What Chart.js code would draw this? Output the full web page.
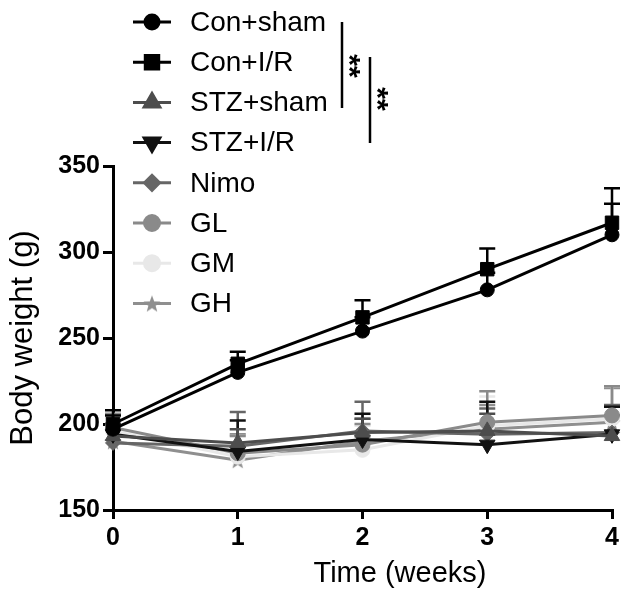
<!DOCTYPE html>
<html><head><meta charset="utf-8">
<script src="https://cdn.jsdelivr.net/npm/chart.js@4/dist/chart.umd.min.js"></script>
<style>html,body{margin:0;padding:0;background:#fff}#wrap{width:643px;height:591px}</style>
</head><body><div id="wrap"><canvas id="c" width="643" height="591"></canvas></div>
<script>
const weeks = [0, 1, 2, 3, 4];
const seriesNames = ['Con+sham', 'Con+I/R', 'STZ+sham', 'STZ+I/R', 'Nimo', 'GL', 'GM', 'GH'];
const conSham   = [197, 230, 254, 278, 310];
const conIR     = [200, 235, 262, 290, 317];
const stzSham   = [193, 189, 195, 196, 193];
const stzIR     = [194, 184, 191, 188, 194];
const nimo      = [189, 187, 196, 194, 195];
const gl        = [198, 183, 188, 201, 205];
const gm        = [196, 181, 185, 199, 203];
const gh        = [190, 179, 190, 197, 201];
const conShamErr = [8, 7, 8, 10, 18];
const conIRErr   = [8, 7, 10, 12, 20];
const stzShamErr = [7, 8, 8, 10, 12];
const stzIRErr   = [6, 18, 15, 25, 16];
const nimoErr    = [10, 20, 17, 15, 16];
const glErr      = [8, 10, 12, 18, 17];
const gmErr      = [8, 12, 14, 17, 19];
const ghErr      = [9, 15, 13, 14, 20];
const yTicks = [150, 200, 250, 300, 350];
const xTicks = [0, 1, 2, 3, 4];

const FONT = "'Liberation Sans', Arial, Helvetica, sans-serif";

function starImage(color, size) {
  const c = document.createElement('canvas');
  c.width = size; c.height = size;
  const g = c.getContext('2d');
  const cx = size / 2, cy = size / 2 + 1, R = size / 2, r = R * 0.42;
  g.beginPath();
  for (let i = 0; i < 10; i++) {
    const a = -Math.PI / 2 + i * Math.PI / 5;
    const rr = i % 2 === 0 ? R : r;
    g.lineTo(cx + rr * Math.cos(a), cy + rr * Math.sin(a));
  }
  g.closePath();
  g.fillStyle = color; g.fill();
  return c;
}

const styles = [
  {color: '#000000', pointStyle: 'circle', radius: 7, rotation: 0},
  {color: '#000000', pointStyle: 'rect', radius: 9.5, rotation: 0},
  {color: '#4d4d4d', pointStyle: 'triangle', radius: 9, rotation: 0},
  {color: '#111111', pointStyle: 'triangle', radius: 9, rotation: 180},
  {color: '#666666', pointStyle: 'rectRot', radius: 7.5, rotation: 0},
  {color: '#8a8a8a', pointStyle: 'circle', radius: 7.5, rotation: 0},
  {color: '#e8e8e8', pointStyle: 'circle', radius: 7.5, rotation: 0},
  {color: '#8f8f8f', pointStyle: starImage('#8f8f8f', 18), radius: 8, rotation: 0}
];
const values = [conSham, conIR, stzSham, stzIR, nimo, gl, gm, gh];
const errs = [conShamErr, conIRErr, stzShamErr, stzIRErr, nimoErr, glErr, gmErr, ghErr];

const datasets = seriesNames.map((name, i) => ({
  label: name,
  data: weeks.map((w, k) => ({x: w, y: values[i][k]})),
  borderColor: styles[i].color,
  backgroundColor: styles[i].color,
  pointBackgroundColor: styles[i].color,
  pointBorderColor: styles[i].color,
  pointStyle: styles[i].pointStyle,
  pointRadius: styles[i].radius,
  pointRotation: styles[i].rotation,
  pointBorderWidth: 1,
  borderWidth: 3,
  tension: 0,
  clip: false,
  errs: errs[i]
}));

const errorBars = {
  id: 'errorBars',
  beforeDatasetsDraw(chart) {
    const ctx = chart.ctx, xs = chart.scales.x, ys = chart.scales.y;
    ctx.save();
    for (let i = chart.data.datasets.length - 1; i >= 0; i--) {
      const ds = chart.data.datasets[i];
      ctx.strokeStyle = ds.borderColor;
      ctx.lineWidth = 2.5;
      ds.data.forEach((p, k) => {
        const x = xs.getPixelForValue(p.x);
        const y0 = ys.getPixelForValue(p.y);
        const y1 = ys.getPixelForValue(p.y + ds.errs[k]);
        ctx.beginPath();
        ctx.moveTo(x, y0); ctx.lineTo(x, y1);
        ctx.moveTo(x - 8, y1); ctx.lineTo(x + 8, y1);
        ctx.stroke();
      });
    }
    ctx.restore();
  }
};

const legendAndNotes = {
  id: 'legendAndNotes',
  afterDraw(chart) {
    const ctx = chart.ctx;
    ctx.save();
    chart.data.datasets.forEach((ds, i) => {
      const y = 22 + i * 40.2;
      ctx.strokeStyle = ds.borderColor;
      ctx.lineWidth = 3;
      ctx.beginPath(); ctx.moveTo(133, y); ctx.lineTo(171, y); ctx.stroke();
      ctx.fillStyle = ds.borderColor;
      Chart.helpers.drawPoint(ctx, {
        pointStyle: ds.pointStyle, rotation: ds.pointRotation,
        radius: ds.pointRadius, borderWidth: 1
      }, 152, y);
      ctx.fillStyle = '#000';
      ctx.font = '28px ' + FONT;
      ctx.textAlign = 'left';
      ctx.textBaseline = 'middle';
      ctx.fillText(ds.label, 190, y + 1);
    });
    // significance brackets
    ctx.strokeStyle = '#000';
    ctx.lineWidth = 2.5;
    ctx.beginPath(); ctx.moveTo(342, 22); ctx.lineTo(342, 108); ctx.stroke();
    ctx.beginPath(); ctx.moveTo(370, 57); ctx.lineTo(370, 143); ctx.stroke();
    ctx.fillStyle = '#000';
    ctx.font = 'bold 30px ' + FONT;
    ctx.textAlign = 'center';
    ctx.textBaseline = 'middle';
    [[355, 66], [383, 99]].forEach(([x, y]) => {
      ctx.save(); ctx.translate(x, y); ctx.rotate(Math.PI / 2);
      ctx.fillText('**', 0, 7); ctx.restore();
    });
    // x axis title
    ctx.font = '29px ' + FONT;
    ctx.textAlign = 'center';
    ctx.textBaseline = 'middle';
    ctx.fillText('Time (weeks)', 400, 574);
    ctx.restore();
  }
};

new Chart(document.getElementById('c'), {
  type: 'line',
  data: {datasets},
  options: {
    responsive: false,
    animation: false,
    devicePixelRatio: 1,
    layout: {padding: {top: 166, right: 31, left: 0, bottom: 0}},
    plugins: {legend: {display: false}, tooltip: {enabled: false}},
    scales: {
      x: {
        type: 'linear', min: 0, max: 4,
        afterFit: s => { s.height = 81; },
        afterBuildTicks: s => { s.ticks = xTicks.map(v => ({value: v})); },
        border: {color: '#000', width: 3},
        grid: {drawOnChartArea: false, drawTicks: true, tickLength: 9, color: '#000', lineWidth: 3},
        ticks: {color: '#000', font: {family: FONT, size: 25, weight: 'bold'}, padding: 4, maxRotation: 0}
      },
      y: {
        min: 150, max: 350,
        afterFit: s => { s.width = 113; },
        afterBuildTicks: s => { s.ticks = yTicks.map(v => ({value: v})); },
        border: {color: '#000', width: 3},
        grid: {drawOnChartArea: false, drawTicks: true, tickLength: 10, color: '#000', lineWidth: 3},
        ticks: {color: '#000', font: {family: FONT, size: 25, weight: 'bold'}, padding: 3},
        title: {display: true, text: 'Body weight (g)', color: '#000',
                font: {family: FONT, size: 31}, padding: {top: 5, bottom: 0}}
      }
    }
  },
  plugins: [errorBars, legendAndNotes]
});
</script></body></html>
